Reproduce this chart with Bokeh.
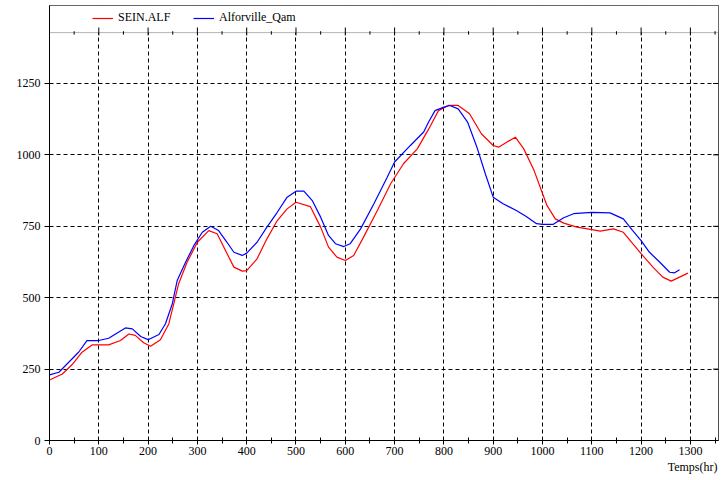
from bokeh.plotting import figure
from bokeh.models import (Range1d, FixedTicker, SingleIntervalTicker,
                          Legend, LegendItem, BoxAnnotation, Title)
from bokeh.embed import file_html
from bokeh.resources import INLINE
import numpy as np

# ---- data ----
sein_t = [0, 26, 46, 66, 87, 100, 120, 144, 161, 174, 191, 205, 225, 242, 252, 262, 279, 300,
          323, 340, 357, 374, 391, 400, 421, 441, 462, 482, 500, 529, 550, 566, 583, 600, 617,
          637, 665, 692, 718, 746, 769, 789, 809, 829, 852, 876, 900, 911, 928, 945, 962, 983,
          1000, 1009, 1026, 1043, 1070, 1100, 1117, 1144, 1164, 1183, 1200, 1224, 1244, 1261,
          1278, 1295]
sein_v = [212, 233, 266, 309, 335, 335, 335, 350, 373, 368, 342, 330, 353, 408, 478, 549, 624, 694,
          735, 724, 665, 607, 593, 595, 636, 706, 770, 811, 834, 819, 747, 677, 642, 630, 648,
          712, 805, 899, 969, 1021, 1090, 1155, 1173, 1173, 1144, 1074, 1033, 1027, 1045, 1062,
          1021, 945, 865, 823, 776, 761, 747, 738, 733, 741, 729, 689, 654, 607, 572, 558, 572, 586]

alf_t = [0, 19, 39, 59, 76, 100, 120, 134, 154, 168, 185, 200, 222, 235, 249, 259, 276, 293, 310,
         327, 343, 360, 374, 391, 400, 421, 441, 462, 482, 500, 516, 533, 550, 566, 580, 597, 610,
         631, 658, 685, 700, 732, 759, 769, 782, 800, 812, 829, 848, 867, 884, 900, 920, 947, 967,
         988, 1000, 1022, 1043, 1063, 1100, 1137, 1164, 1183, 1200, 1217, 1238, 1258, 1268, 1278]
alf_v = [230, 239, 274, 309, 350, 350, 358, 373, 394, 391, 364, 353, 371, 408, 478, 560, 624, 683, 729,
         750, 735, 694, 659, 648, 656, 694, 747, 799, 852, 873, 873, 840, 782, 718, 689, 679, 689,
         741, 829, 922, 975, 1033, 1080, 1115, 1155, 1167, 1173, 1161, 1115, 1027, 934, 852, 829, 805,
         784, 759, 757, 757, 780, 794, 799, 797, 776, 735, 700, 659, 624, 589, 587, 598]

y_ticks = [0, 250, 500, 750, 1000, 1250]
x_tick_interval = 100
series_names = ["SEIN.ALF", "Alforville_Qam"]
series_colors = ["#ff0000", "#0000ff"]
x_title = "Temps(hr)"

# ---- layout constants ----
X_END = 1357
Y_END = 1523
LEG_BOTTOM = 1428
FONT = "Liberation Serif"

p = figure(width=722, height=478, x_range=Range1d(0, X_END), y_range=Range1d(0, Y_END),
           output_backend="svg", toolbar_location=None,
           min_border_left=49, min_border_right=4, min_border_top=5, min_border_bottom=38)
p.outline_line_color = "#505050"
p.outline_line_width = 1
p.background_fill_color = "white"
p.border_fill_color = "white"

xticker = SingleIntervalTicker(interval=x_tick_interval, num_minor_ticks=2)
yticker = FixedTicker(ticks=y_ticks, minor_ticks=[])

for ax in p.xaxis:
    ax.ticker = xticker
    ax.major_tick_in = 3
    ax.major_tick_out = 4
    ax.minor_tick_in = 3
    ax.minor_tick_out = 3
    ax.major_label_standoff = 2
for ax in p.yaxis:
    ax.ticker = yticker
    ax.major_tick_in = 0
    ax.major_tick_out = 5
    ax.minor_tick_in = 0
    ax.minor_tick_out = 0
    ax.major_label_standoff = 4
for ax in list(p.xaxis) + list(p.yaxis):
    ax.axis_line_color = "black"
    ax.major_tick_line_color = "black"
    ax.minor_tick_line_color = "black"
    ax.major_label_text_font = FONT
    ax.major_label_text_font_size = "12px"
    ax.major_label_text_color = "black"

# x axis title, right-aligned under the axis
p.add_layout(Title(text=x_title, align="right", text_font=FONT, text_font_size="12px",
                   text_font_style="normal", text_color="black", standoff=0, offset=1), "below")

p.xgrid.ticker = xticker
p.ygrid.ticker = yticker
for g in (p.xgrid[0], p.ygrid[0]):
    g.grid_line_color = "black"
    g.grid_line_dash = "4 3"
    g.grid_line_width = 1

# legend box area at top (covers grid)
box = BoxAnnotation(bottom=LEG_BOTTOM, top=Y_END, left=0, right=X_END,
                    fill_color="white", fill_alpha=1.0,
                    line_color="black", line_width=1, level="underlay")
p.add_layout(box)

# tick marks on the line that separates the legend area
maj = np.arange(0, X_END, 100)
mnr = np.arange(50, X_END, 100)
p.segment(x0=maj, y0=LEG_BOTTOM - 10, x1=maj, y1=LEG_BOTTOM + 18, line_color="black", line_width=1)
p.segment(x0=mnr, y0=LEG_BOTTOM - 7, x1=mnr, y1=LEG_BOTTOM + 5, line_color="black", line_width=1)
# tick marks on the right border
p.segment(x0=[X_END - 11] * len(y_ticks), y0=y_ticks, x1=[X_END] * len(y_ticks), y1=y_ticks,
          line_color="black", line_width=1)

r1 = p.line(sein_t, sein_v, line_color=series_colors[0], line_width=1.2)
r2 = p.line(alf_t, alf_v, line_color=series_colors[1], line_width=1.2)

legend = Legend(items=[LegendItem(label=series_names[0], renderers=[r1]),
                       LegendItem(label=series_names[1], renderers=[r2])],
                location=(43, 415), orientation="horizontal",
                glyph_width=21, glyph_height=14, label_height=14, label_width=55,
                label_standoff=5, spacing=20, padding=0, margin=0,
                border_line_color=None, background_fill_alpha=0,
                label_text_font=FONT, label_text_font_size="12px", label_text_color="black")
p.add_layout(legend)

open("out.html", "w").write(file_html(p, INLINE))
